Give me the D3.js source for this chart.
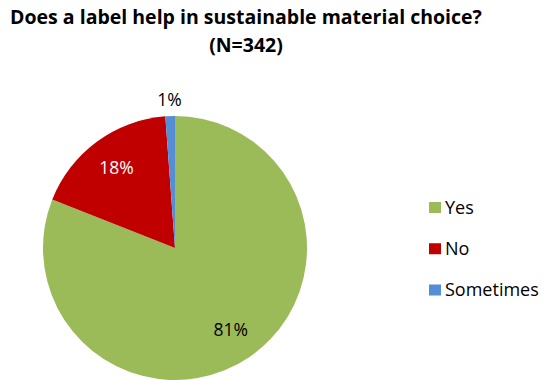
<!DOCTYPE html>
<html><head><meta charset="utf-8">
<script src="https://cdn.jsdelivr.net/npm/d3@7"></script>
<style>body{margin:0;background:#fff}svg{display:block}</style>
</head><body>
<svg id="c" width="543" height="380"></svg>
<script>
const categories = ["Yes", "No", "Sometimes"];
const counts = [277, 61, 4];
const percentLabels = ["81%", "18%", "1%"];
const colors = ["#9BBB59", "#C00000", "#558ED5"];
const titleLines = ["Does a label help in sustainable material choice?", "(N=342)"];

const svg = d3.select("#c");
const font = "'Open Sans', sans-serif";
const cx = 175, cy = 248, r = 132;

svg.selectAll("text.title").data(titleLines).join("text")
  .attr("x", 246).attr("y", (d,i) => 24 + i*28)
  .attr("text-anchor", "middle").attr("font-family", font)
  .attr("font-weight", "bold").attr("font-size", 19.5).attr("fill", "#000")
  .text(d => d);

const data = categories.map((c,i) => ({c, v: counts[i], lab: percentLabels[i], col: colors[i]}));
const pie = d3.pie().value(d => d.v).sort(null);
const arcs = pie(data);
const arc = d3.arc().innerRadius(0).outerRadius(r);
const g = svg.append("g").attr("transform", `translate(${cx},${cy})`);
g.selectAll("path").data(arcs).join("path").attr("d", arc).attr("fill", d => d.data.col);

const labelArc = d3.arc().innerRadius(r*0.75).outerRadius(r*0.75);
const outerArc = d3.arc().innerRadius(r*1.12).outerRadius(r*1.12);
g.selectAll("text").data(arcs).join("text")
  .attr("transform", (d,i) => {
    const p = i === 2 ? outerArc.centroid(d) : labelArc.centroid(d);
    return `translate(${p})`;
  })
  .attr("text-anchor", "middle").attr("dy", "0.35em")
  .attr("font-family", font).attr("font-size", 17.5)
  .attr("fill", (d,i) => i === 1 ? "#fff" : "#000")
  .text(d => d.data.lab);

const leg = svg.append("g");
const ly = d3.scalePoint().domain(categories).range([207.5, 290]);
const li = leg.selectAll("g").data(data).join("g").attr("transform", d => `translate(429,${ly(d.c)})`);
li.append("rect").attr("x", 0).attr("y", -5.5).attr("width", 12).attr("height", 11).attr("fill", d => d.col);
li.append("text").attr("x", 16).attr("dy", "0.35em").attr("font-family", font).attr("font-size", 18).attr("fill", "#000").text(d => d.c);
</script>
</body></html>
